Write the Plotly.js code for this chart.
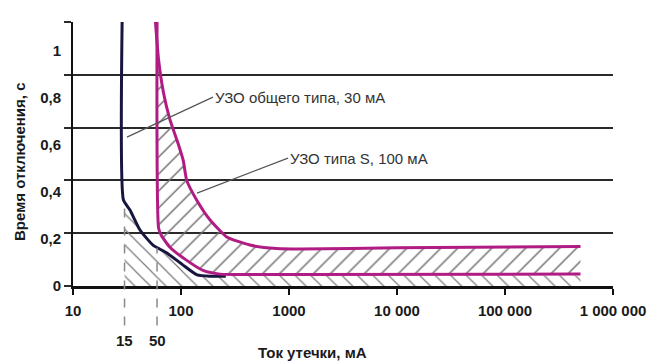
<!DOCTYPE html>
<html>
<head>
<meta charset="utf-8">
<script src="https://cdn.plot.ly/plotly-3.0.1.min.js"></script>
<style>html,body{margin:0;padding:0;background:#fff;}#chart{width:660px;height:362px;}</style>
</head>
<body>
<div id="chart"></div>
<script>
// ---- data ----
const xTickVals = [10, 100, 1000, 10000, 100000, 1000000];
const xTickText = ['10', '100', '1000', '10 000', '100 000', '1 000 000'];
const yGridVals = [0, 0.2, 0.4, 0.6, 0.8, 1.0];
const yLabelVals = [0, 0.2, 0.4, 0.6, 0.8, 1.0];
const yLabelText = ['0', '0,2', '0,4', '0,6', '0,8', '1'];

// general-type RCD 30 mA (dark curve)
const blackX = [28.5, 29.3, 33.7, 41.7, 55, 74, 104, 141, 186, 260];
const blackY = [1.0, 0.326, 0.288, 0.212, 0.155, 0.125, 0.08, 0.042, 0.037, 0.037];

// S-type RCD 100 mA, lower (inner) boundary
const innerX = [60, 62, 66, 79, 113, 160, 230, 1265, 500000];
const innerY = [1.0, 0.22, 0.19, 0.147, 0.097, 0.059, 0.045, 0.044, 0.045];

// S-type RCD 100 mA, upper (outer) boundary
const outerX = [58, 62, 69, 79, 94, 105, 113, 140, 186, 265, 435, 769, 1265, 10000, 500000];
const outerY = [1.0, 0.857, 0.73, 0.63, 0.54, 0.475, 0.40, 0.325, 0.25, 0.186, 0.155, 0.142, 0.14, 0.145, 0.15];

// lower hatched zone (under the curves)
const hatchX = [30, 33.7, 41.7, 55, 74, 104, 141, 230, 500000];
const hatchY = [0.32, 0.288, 0.212, 0.155, 0.125, 0.08, 0.042, 0.04, 0.04];

// dashed reference currents and their labels
const dashX = [30, 60];
const dashTop = [0.326, 0.145];
const dashLabels = ['15', '50'];

const labels = ['УЗО общего типа, 30 мА', 'УЗО типа S, 100 мА'];
const labelPointX = [31.6, 140.6];
const labelPointY = [0.564, 0.352];

// ---- drawing ----
const pink = '#b01c84';
const navy = '#16163f';
const fontFam = '"Liberation Sans", Arial, sans-serif';

const traces = [
  {
    x: hatchX, y: hatchY, type: 'scatter', mode: 'lines',
    line: {width: 0, color: 'rgba(0,0,0,0)'},
    fill: 'tozeroy', fillcolor: 'rgba(0,0,0,0)',
    fillpattern: {shape: '\\', size: 11, solidity: 0.11, fgcolor: '#7a7a7a'},
    hoverinfo: 'skip', showlegend: false
  },
  {
    x: blackX, y: blackY, type: 'scatter', mode: 'lines',
    line: {width: 3, color: navy, shape: 'spline', smoothing: 0.5},
    hoverinfo: 'skip', showlegend: false
  },
  {
    x: innerX, y: innerY, type: 'scatter', mode: 'lines',
    line: {width: 3, color: pink, shape: 'spline', smoothing: 0.5},
    hoverinfo: 'skip', showlegend: false
  },
  {
    x: outerX, y: outerY, type: 'scatter', mode: 'lines',
    line: {width: 3, color: pink, shape: 'spline', smoothing: 0.5},
    fill: 'tonexty', fillcolor: 'rgba(0,0,0,0)',
    fillpattern: {shape: '/', size: 12, solidity: 0.12, fgcolor: '#6e6e6e'},
    hoverinfo: 'skip', showlegend: false
  },
  {x: [], y: [], yaxis: 'y2', type: 'scatter', mode: 'lines', showlegend: false, hoverinfo: 'skip'}
];

const shapes = dashX.map((v, i) => ({
  type: 'line', xref: 'x', yref: 'paper',
  x0: v, x1: v, y0: -0.15, y1: dashTop[i],
  line: {color: '#8a8a8a', width: 1.5, dash: 'dash'}, layer: 'above'
}));

const annotations = [];
dashX.forEach((v, i) => annotations.push({
  x: Math.log10(v), xref: 'x', y: -0.205, yref: 'paper',
  text: dashLabels[i], showarrow: false, xanchor: 'center', yanchor: 'middle',
  font: {family: fontFam, size: 15, color: '#1a1a1a', weight: 700}
}));
const arrowOff = [[86, -40], [91, -35]];
labels.forEach((t, i) => annotations.push({
  x: Math.log10(labelPointX[i]), xref: 'x', y: labelPointY[i], yref: 'y',
  text: t, showarrow: true, arrowhead: 0, arrowwidth: 1.2, arrowcolor: '#555',
  ax: arrowOff[i][0], ay: arrowOff[i][1], xanchor: 'left', yanchor: 'middle',
  font: {family: fontFam, size: 15, color: '#333'}
}));
annotations.push({
  text: 'Ток утечки, мА', xref: 'paper', yref: 'paper', x: 0.4426, y: -0.25,
  xanchor: 'center', yanchor: 'middle', showarrow: false,
  font: {family: fontFam, size: 15, color: '#1a1a1a', weight: 700}
});
annotations.push({
  text: 'Время отключения, с', xref: 'paper', yref: 'paper', x: -0.098, y: 0.47,
  xanchor: 'center', yanchor: 'middle', showarrow: false, textangle: -90,
  font: {family: fontFam, size: 15, color: '#1a1a1a', weight: 700}
});

const layout = {
  width: 660, height: 362,
  margin: {l: 73, r: 47, t: 22, b: 76},
  paper_bgcolor: '#fff', plot_bgcolor: '#fff',
  showlegend: false,
  font: {family: fontFam},
  xaxis: {
    type: 'log', range: [1, 6], tickvals: xTickVals, ticktext: xTickText,
    showgrid: false, zeroline: false, showline: true, linecolor: '#111', linewidth: 2.5,
    ticks: 'outside', ticklen: 6, tickwidth: 2, tickcolor: '#111',
    ticklabelstandoff: 3,
    tickfont: {family: fontFam, size: 15, color: '#1a1a1a', weight: 700}
  },
  yaxis: {
    range: [0, 1], tickvals: yGridVals, showticklabels: false,
    showgrid: true, gridcolor: '#2a2a2a', gridwidth: 2, zeroline: false,
    showline: true, linecolor: '#111', linewidth: 2.5,
    ticks: 'outside', ticklen: 7, tickwidth: 2, tickcolor: '#2a2a2a'
  },
  yaxis2: {
    overlaying: 'y', side: 'left', anchor: 'x',
    range: [0, 1.12], tickvals: yLabelVals, ticktext: yLabelText,
    showgrid: false, zeroline: false, showline: false,
    ticks: 'outside', ticklen: 8, tickcolor: 'rgba(0,0,0,0)',
    tickfont: {family: fontFam, size: 15, color: '#1a1a1a', weight: 700}
  },
  shapes: shapes,
  annotations: annotations
};

Plotly.newPlot('chart', traces, layout, {displayModeBar: false, staticPlot: true});
</script>
</body>
</html>
